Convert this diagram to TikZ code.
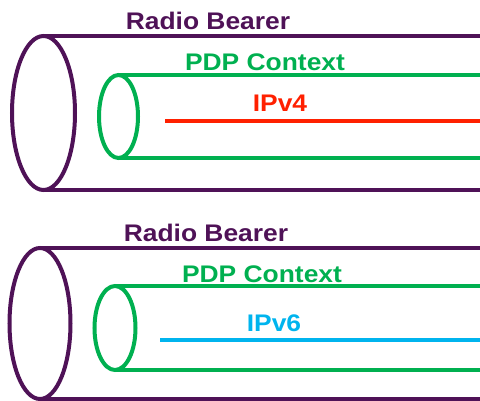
\documentclass[tikz,border=0pt]{standalone}
\usepackage{fontspec}
\setmainfont{Liberation Sans}
\usetikzlibrary{positioning, shapes.geometric}

\definecolor{bearerpurple}{HTML}{4F1257}
\definecolor{contextgreen}{HTML}{00B050}
\definecolor{ipvfourred}{HTML}{FF2000}
\definecolor{ipvsixblue}{HTML}{00B4EE}

\tikzset{
    tubeend/.style={draw, ellipse, line width=4pt, inner sep=0pt, outer sep=0pt},
    tubeline/.style={line width=4pt},
    flowline/.style={line width=4pt},
    tubelabel/.style={font=\bfseries\fontsize{24}{28}\selectfont, xscale=1.1, inner sep=0pt}
}

\begin{document}
\begin{tikzpicture}[x=1pt, y=-1pt]
    \useasboundingbox (0,0) rectangle (480,401);

    % Define the tube ends (each end is an ellipse)
    \node (rbA) [tubeend, bearerpurple, minimum width=63pt, minimum height=154pt] at (43.5,113) {};
    \node (pdpA) [tubeend, contextgreen, minimum width=39pt, minimum height=83pt] at (118.5,116.5) {};
    \node (rbB) [tubeend, bearerpurple, minimum width=61pt, minimum height=151pt] at (40,323.5) {};
    \node (pdpB) [tubeend, contextgreen, minimum width=41pt, minimum height=84pt] at (115,328) {};

    % Define the open ends on the right border
    \coordinate (rbAtop) at (480,36);
    \coordinate (rbAbot) at (480,190);
    \coordinate (pdpAtop) at (480,75);
    \coordinate (pdpAbot) at (480,158);
    \coordinate (ipAstart) at (165,121);
    \coordinate (ipAend) at (480,121);
    \coordinate (rbBtop) at (480,248);
    \coordinate (rbBbot) at (480,399);
    \coordinate (pdpBtop) at (480,286);
    \coordinate (pdpBbot) at (480,370);
    \coordinate (ipBstart) at (160,340);
    \coordinate (ipBend) at (480,340);

    % Define the labels above the tubes
    \node (rbAlabel) [tubelabel, text=bearerpurple] at (208,21) {Radio Bearer};
    \node (pdpAlabel) [tubelabel, text=contextgreen] at (265,62) {PDP Context};
    \node (ipAlabel) [tubelabel, text=ipvfourred] at (280,103) {IPv4};
    \node (rbBlabel) [tubelabel, text=bearerpurple] at (206,233) {Radio Bearer};
    \node (pdpBlabel) [tubelabel, text=contextgreen] at (262,274) {PDP Context};
    \node (ipBlabel) [tubelabel, text=ipvsixblue] at (274,323) {IPv6};

    % Draw the tube walls
    \draw[tubeline, bearerpurple] (rbA.north) -- (rbAtop);
    \draw[tubeline, bearerpurple] (rbA.south) -- (rbAbot);
    \draw[tubeline, contextgreen] (pdpA.north) -- (pdpAtop);
    \draw[tubeline, contextgreen] (pdpA.south) -- (pdpAbot);
    \draw[tubeline, bearerpurple] (rbB.north) -- (rbBtop);
    \draw[tubeline, bearerpurple] (rbB.south) -- (rbBbot);
    \draw[tubeline, contextgreen] (pdpB.north) -- (pdpBtop);
    \draw[tubeline, contextgreen] (pdpB.south) -- (pdpBbot);

    % Draw the IP flows inside the PDP contexts
    \draw[flowline, ipvfourred] (ipAstart) -- (ipAend);
    \draw[flowline, ipvsixblue] (ipBstart) -- (ipBend);

\end{tikzpicture}
\end{document}
